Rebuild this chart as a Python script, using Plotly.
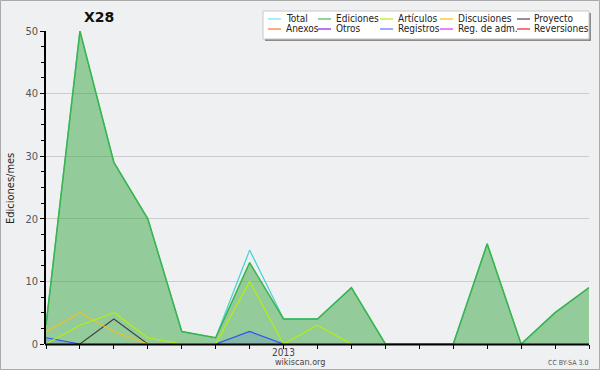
import plotly.graph_objects as go

# ---------------- data ----------------
months = ["2012-06", "2012-07", "2012-08", "2012-09", "2012-10", "2012-11", "2012-12",
          "2013-01", "2013-02", "2013-03", "2013-04", "2013-05", "2013-06", "2013-07",
          "2013-08", "2013-09", "2013-10"]
tick_text = ["", "", "", "", "", "", "", "2013", "", "", "", "", "", "", "", "", ""]

total      = [3, 50, 29, 20, 2, 1, 15, 4, 4, 9, 0, 0, 0, 16, 0, 5, 9]
ediciones  = [3, 50, 29, 20, 2, 1, 13, 4, 4, 9, 0, 0, 0, 16, 0, 5, 9]
articulos  = [0, 3, 5, 1, 0, 0, 10, 0, 3, 0, None, None, None, None, None, None, None]
discusiones = [2, 5, 2, 0, None, None, None, None, None, None, None, None, None, None, None, None, None]
proyecto   = [None, 0, 4, 0, None, None, None, None, None, None, None, None, None, None, None, None, None]
registros  = [1, 0, None, None, None, 0, 2, 0, None, None, None, None, None, None, None, None, None]

legend_names = ["Total", "Ediciones", "Artículos", "Discusiones", "Proyecto",
                "Anexos", "Otros", "Registros", "Reg. de adm.", "Reversiones"]
legend_colors = ["#7fe3e3", "#4cc060", "#b8f020", "#f5c518", "#555555",
                 "#ff8030", "#9030e8", "#6a7cf0", "#e040f0", "#f03030"]

# ---------------- layout geometry ----------------
W, H = 600, 370
L, R, T, B = 46, 11, 31, 26
PW, PH = W - L - R, H - T - B
FONT = "DejaVu Sans Condensed, DejaVu Sans, sans-serif"


def px(x):
    return (x - L) / PW


def py(y):
    return (H - B - y) / PH


BG = "#eff0f2"
fig = go.Figure()

fig.add_trace(go.Scatter(x=months, y=total, mode="lines",
                         line=dict(color="#40d4d0", width=1.2), showlegend=False))
fig.add_trace(go.Scatter(x=months, y=ediciones, mode="lines", fill="tozeroy",
                         fillcolor="rgba(56,168,66,0.5)",
                         line=dict(color="#3cb44a", width=1.5), showlegend=False))
fig.add_trace(go.Scatter(x=months, y=registros, mode="lines", fill="tozeroy",
                         fillcolor="rgba(60,90,240,0.18)",
                         line=dict(color="#3050f0", width=1.2), showlegend=False))
fig.add_trace(go.Scatter(x=months, y=proyecto, mode="lines",
                         line=dict(color="#444444", width=1.2), showlegend=False))
fig.add_trace(go.Scatter(x=months, y=discusiones, mode="lines",
                         line=dict(color="#f0c020", width=1.2), showlegend=False))
fig.add_trace(go.Scatter(x=months, y=articulos, mode="lines",
                         line=dict(color="#b4ee10", width=1.2), showlegend=False))

shapes = []
annotations = []

# page border
shapes.append(dict(type="rect", xref="paper", yref="paper",
                   x0=px(0.5), x1=px(599.5), y0=py(369.5), y1=py(0.5),
                   line=dict(color="#aaaaaa", width=1), layer="below"))
# x axis baseline drawn above the data so zero-valued segments hide under it
shapes.append(dict(type="line", xref="paper", yref="paper",
                   x0=px(45), x1=1, y0=py(344.6), y1=py(344.6), layer="above",
                   line=dict(color="#000000", width=2)))

# legend box with shadow
shapes.append(dict(type="rect", xref="paper", yref="paper",
                   x0=px(265), x1=px(591), y0=py(41), y1=py(13),
                   fillcolor="#8c8c8c", line=dict(width=0)))
shapes.append(dict(type="rect", xref="paper", yref="paper",
                   x0=px(263), x1=px(589), y0=py(39), y1=py(11),
                   fillcolor="#ffffff", line=dict(color="#c8c8c8", width=1)))

col_line_x = [268, 318, 380, 440, 517]
col_text_x = [284, 334, 396, 456, 532]
row_y = [19, 29]
for i, (name, color) in enumerate(zip(legend_names, legend_colors)):
    r, c = divmod(i, 5)
    yy = row_y[r]
    shapes.append(dict(type="line", xref="paper", yref="paper",
                       x0=px(col_line_x[c]), x1=px(col_line_x[c] + 13),
                       y0=py(yy), y1=py(yy), line=dict(color=color, width=1.3)))
    annotations.append(dict(text=name, xref="paper", yref="paper",
                            x=px(col_text_x[c]), y=py(yy), xanchor="left", yanchor="middle",
                            showarrow=False, font=dict(family=FONT, size=10, color="#222222")))

# title
annotations.append(dict(text="<b>X28</b>", xref="paper", yref="paper", x=px(99), y=py(17),
                        xanchor="center", yanchor="middle", showarrow=False,
                        font=dict(family="DejaVu Sans", size=14, color="#111111")))
# y axis title
annotations.append(dict(text="Ediciones/mes", xref="paper", yref="paper", x=px(10), y=py(189),
                        xanchor="center", yanchor="middle", textangle=-90, showarrow=False,
                        font=dict(family=FONT, size=11, color="#222222")))
# footer texts
annotations.append(dict(text="wikiscan.org", xref="paper", yref="paper", x=px(300), y=py(362),
                        xanchor="center", yanchor="middle", showarrow=False,
                        font=dict(family=FONT, size=9, color="#444444")))
annotations.append(dict(text="CC BY-SA 3.0", xref="paper", yref="paper", x=px(590), y=py(362.5),
                        xanchor="right", yanchor="middle", showarrow=False,
                        font=dict(family=FONT, size=7, color="#555555")))

fig.update_layout(
    width=W, height=H,
    margin=dict(l=L, r=R, t=T, b=B, pad=0, autoexpand=False),
    paper_bgcolor=BG, plot_bgcolor=BG,
    showlegend=False,
    shapes=shapes, annotations=annotations,
    xaxis=dict(type="category", range=[0, len(months) - 1], automargin=False,
               tickmode="array", tickvals=months, ticktext=tick_text,
               ticks="outside", ticklen=4, tickcolor="#000000", tickwidth=1,
               showline=False,
               showgrid=False, zeroline=False, fixedrange=True, ticklabelstandoff=-5,
               tickfont=dict(family=FONT, size=10, color="#444444")),
    yaxis=dict(range=[0, 50], tickmode="linear", tick0=0, dtick=10, automargin=False,
               ticks="outside", ticklen=4, tickcolor="#000000", tickwidth=1,
               minor=dict(dtick=2.5, ticks="outside", ticklen=3, tickcolor="#000000", showgrid=False),
               showline=True, linecolor="#000000", linewidth=1.5,
               showgrid=True, gridcolor="#cccccc", gridwidth=1, zeroline=False,
               tickfont=dict(family=FONT, size=11, color="#555555")),
)

fig.write_html("out.html")
